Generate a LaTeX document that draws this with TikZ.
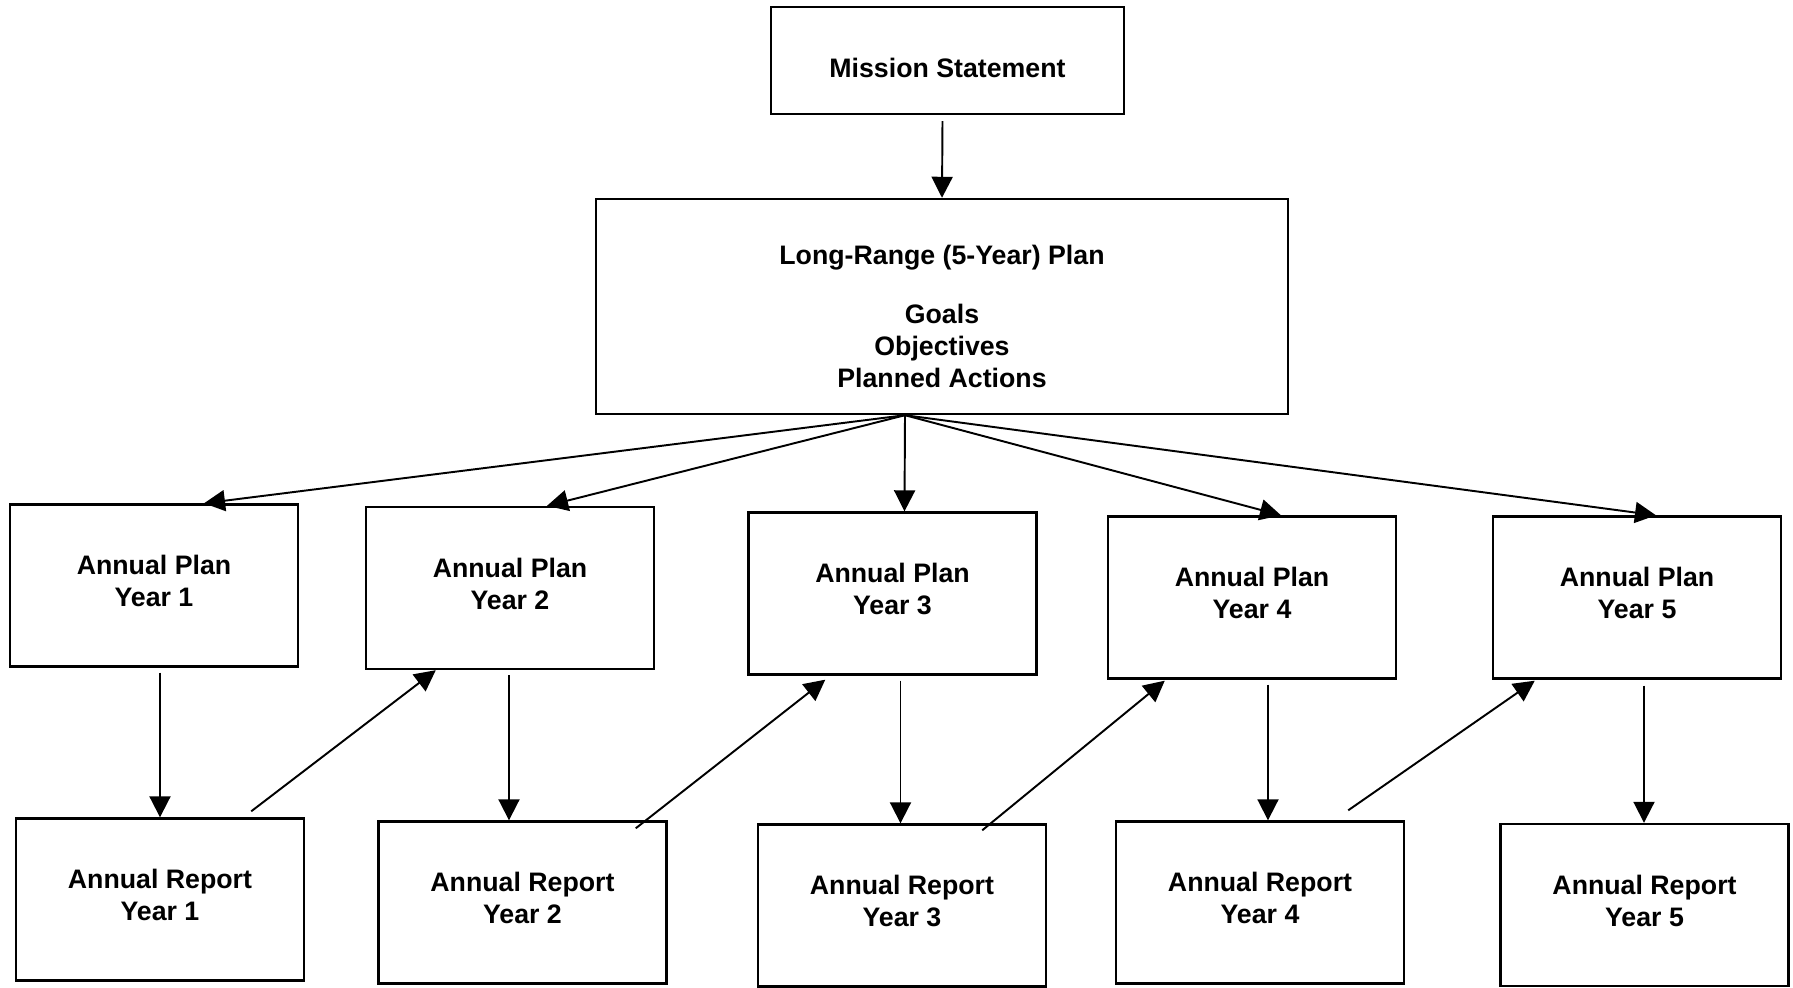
\documentclass[tikz,border=0pt]{standalone}
\usepackage{fontspec}
\setmainfont{Liberation Sans}
\usetikzlibrary{arrows.meta,calc}
\newcommand{\lowstrut}{\rule[-0.093cm]{0pt}{0.093cm}}
\begin{document}
\begin{tikzpicture}[x=0.01cm,y=-0.01cm,
  box/.style={draw,line width=0.65pt,minimum width=2.88cm,minimum height=1.62cm,inner sep=0pt,align=center,font=\fontsize{7.6}{9.1}\selectfont\bfseries},
  arr/.style={line width=0.55pt,-{Triangle[length=0.21cm,width=0.21cm]}}]
\useasboundingbox[fill=white] (0,0) rectangle (1793,988);

\node[box,minimum width=3.53cm,minimum height=1.07cm] (mission) at (947.5,60.5) {\rule{0pt}{0.34cm}Mission Statement};
\node[box,minimum width=6.92cm,minimum height=2.15cm] (lrp) at (942,306.5)
  {\rule{0pt}{0.39cm}Long-Range (5-Year) Plan\\[0.27cm]Goals\\Objectives\\Planned Actions};

\node[box] (ap1) at (154,585.5) {Annual Plan\\Year 1\lowstrut};
\node[box] (ap2) at (510,588) {Annual Plan\\Year 2\lowstrut};
\node[box] (ap3) at (892.5,593.5) {Annual Plan\\Year 3\lowstrut};
\node[box] (ap4) at (1252,597.5) {Annual Plan\\Year 4\lowstrut};
\node[box] (ap5) at (1637,597.5) {Annual Plan\\Year 5\lowstrut};

\node[box] (ar1) at (160,899.5) {Annual Report\\Year 1\lowstrut};
\node[box] (ar2) at (522.5,902.5) {Annual Report\\Year 2\lowstrut};
\node[box] (ar3) at (902,905.5) {Annual Report\\Year 3\lowstrut};
\node[box] (ar4) at (1260,902.5) {Annual Report\\Year 4\lowstrut};
\node[box] (ar5) at (1644.5,905) {Annual Report\\Year 5\lowstrut};

% mission -> long-range plan
\coordinate (ms) at ($(mission.south)+(-5,6)$);
\draw[arr] (ms) -- (lrp.north);

% fan out
\coordinate (fan) at ($(lrp.south)+(-37,0)$);
\draw[arr] (fan) -- ($(ap1.north)+(50,0)$);
\draw[arr] (fan) -- ($(ap2.north)+(37,0)$);
\draw[arr] (fan) -- ($(ap3.north)+(12,0)$);
\draw[arr] (fan) -- ($(ap4.north)+(29,0)$);
\draw[arr] (fan) -- ($(ap5.north)+(19,0)$);

% plan -> report
\coordinate (v1) at ($(ap1.south)+(6,5)$);
\coordinate (v2) at ($(ap2.south)+(-1,5)$);
\coordinate (v3) at ($(ap3.south)+(8,5)$);
\coordinate (v4) at ($(ap4.south)+(16,5)$);
\coordinate (v5) at ($(ap5.south)+(7,6)$);
\draw[arr] (v1) -- (v1 |- ar1.north);
\draw[arr] (v2) -- (v2 |- ar2.north);
\draw[arr] (v3) -- (v3 |- ar3.north);
\draw[arr] (v4) -- (v4 |- ar4.north);
\draw[arr] (v5) -- (v5 |- ar5.north);

% report -> next plan
\coordinate (d1) at ($(ar1.north east)+(-54,-6)$);
\coordinate (d2) at ($(ar2.north east)+(-32,8)$);
\coordinate (d3) at ($(ar3.north east)+(-65,7)$);
\coordinate (d4) at ($(ar4.north east)+(-57,-10)$);
\draw[arr] (d1) -- ($(ap2.south west)+(71,0)$);
\draw[arr] (d2) -- ($(ap3.south west)+(78,4)$);
\draw[arr] (d3) -- ($(ap4.south west)+(58,1)$);
\draw[arr] (d4) -- ($(ap5.south west)+(43,1)$);
\end{tikzpicture}
\end{document}
